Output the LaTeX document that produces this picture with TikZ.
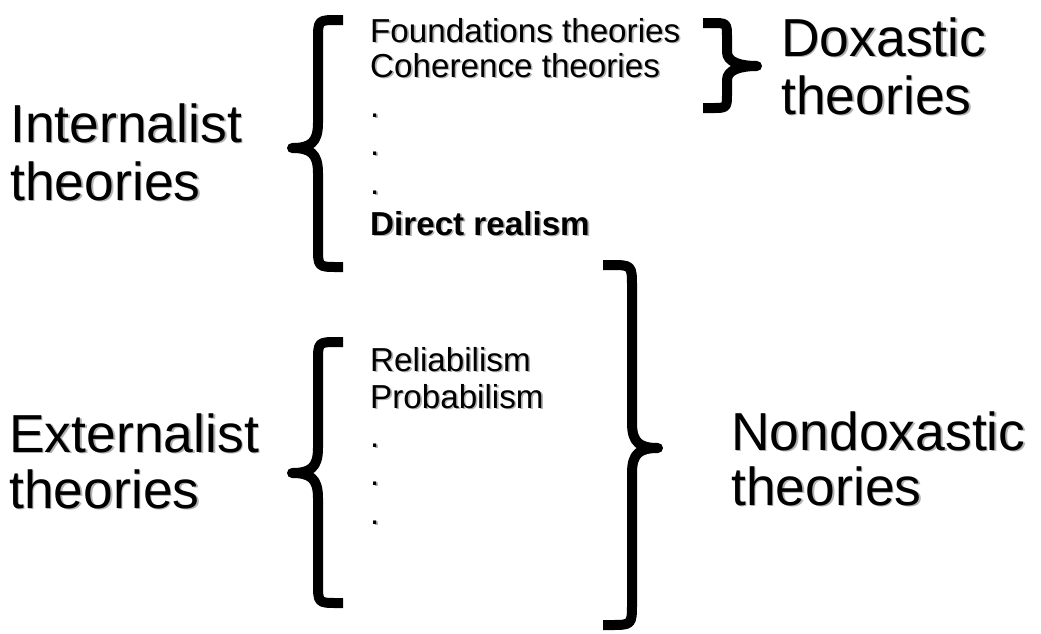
\documentclass[tikz,border=0pt]{standalone}
\usepackage{fontspec}
\setmainfont{Liberation Sans}
\newcommand\shtxt[1]{\leavevmode\rlap{\kern1.6pt\raisebox{-1.6pt}{\textcolor{black!30}{#1}}}#1}
\tikzset{
  big/.style={anchor=base west,inner sep=0pt,font=\fontsize{53.5}{58}\selectfont},
  small/.style={anchor=base west,inner sep=0pt,font=\fontsize{33.2}{36}\selectfont},
  brace/.style={line width=10pt,line join=round,draw=black}
}
\begin{document}
\begin{tikzpicture}[x=1pt,y=-1pt]
\useasboundingbox (0,0) rectangle (1041,633);
% big labels
\node[big] (int1) at (10,142) {\shtxt{Internalist}};
\node[big] (int2) at (10,200) {\shtxt{theories}};
\node[big] (ext1) at (9,452) {\shtxt{Externalist}};
\node[big] (ext2) at (9,508) {\shtxt{theories}};
\node[big] (dox1) at (781,56) {\shtxt{Doxastic}};
\node[big] (dox2) at (781,114) {\shtxt{theories}};
\node[big] (nd1) at (731,450) {\shtxt{Nondoxastic}};
\node[big] (nd2) at (731,505) {\shtxt{theories}};
% small items, upper
\node[small] (found) at (370,42) {\shtxt{Foundations theories}};
\node[small] (coh) at (370,77) {\shtxt{Coherence theories}};
\node[small] (d1) at (370,117) {\shtxt{.}};
\node[small] (d2) at (370,155) {\shtxt{.}};
\node[small] (d3) at (370,194) {\shtxt{.}};
\node[small] (dr) at (370,235) {\shtxt{\bfseries Direct realism}};
% small items, lower
\node[small] (rel) at (370,371) {\shtxt{Reliabilism}};
\node[small] (prob) at (370,408) {\shtxt{Probabilism}};
\node[small] (e1) at (370,447) {\shtxt{.}};
\node[small] (e2) at (370,485) {\shtxt{.}};
\node[small] (e3) at (370,524) {\shtxt{.}};
% braces
\draw[brace] (343,20) -- (338,20) .. controls (318,20) .. (318,40) -- (318,123)
  .. controls (318,143) and (310,148) .. (292,148)
  .. controls (310,148) and (318,153) .. (318,173) -- (318,247)
  .. controls (318,267) .. (338,267) -- (343,267);
\draw[brace] (343,342) -- (338,342) .. controls (318,342) .. (318,362) -- (318,448)
  .. controls (318,468) and (310,473) .. (292,473)
  .. controls (310,473) and (318,478) .. (318,498) -- (318,583)
  .. controls (318,603) .. (338,603) -- (343,603);
\draw[brace] (603,265) -- (610,265) .. controls (632,265) .. (632,287) -- (632,423)
  .. controls (632,443) and (640,448) .. (658,448)
  .. controls (640,448) and (632,453) .. (632,473) -- (632,603)
  .. controls (632,625) .. (610,625) -- (603,625);
\draw[brace] (703,23) -- (712,23) .. controls (727,23) .. (727,38) -- (727,52)
  .. controls (727,62) and (740,66) .. (757,66)
  .. controls (740,66) and (727,70) .. (727,80) -- (727,93)
  .. controls (727,108) .. (712,108) -- (703,108);
\end{tikzpicture}
\end{document}
